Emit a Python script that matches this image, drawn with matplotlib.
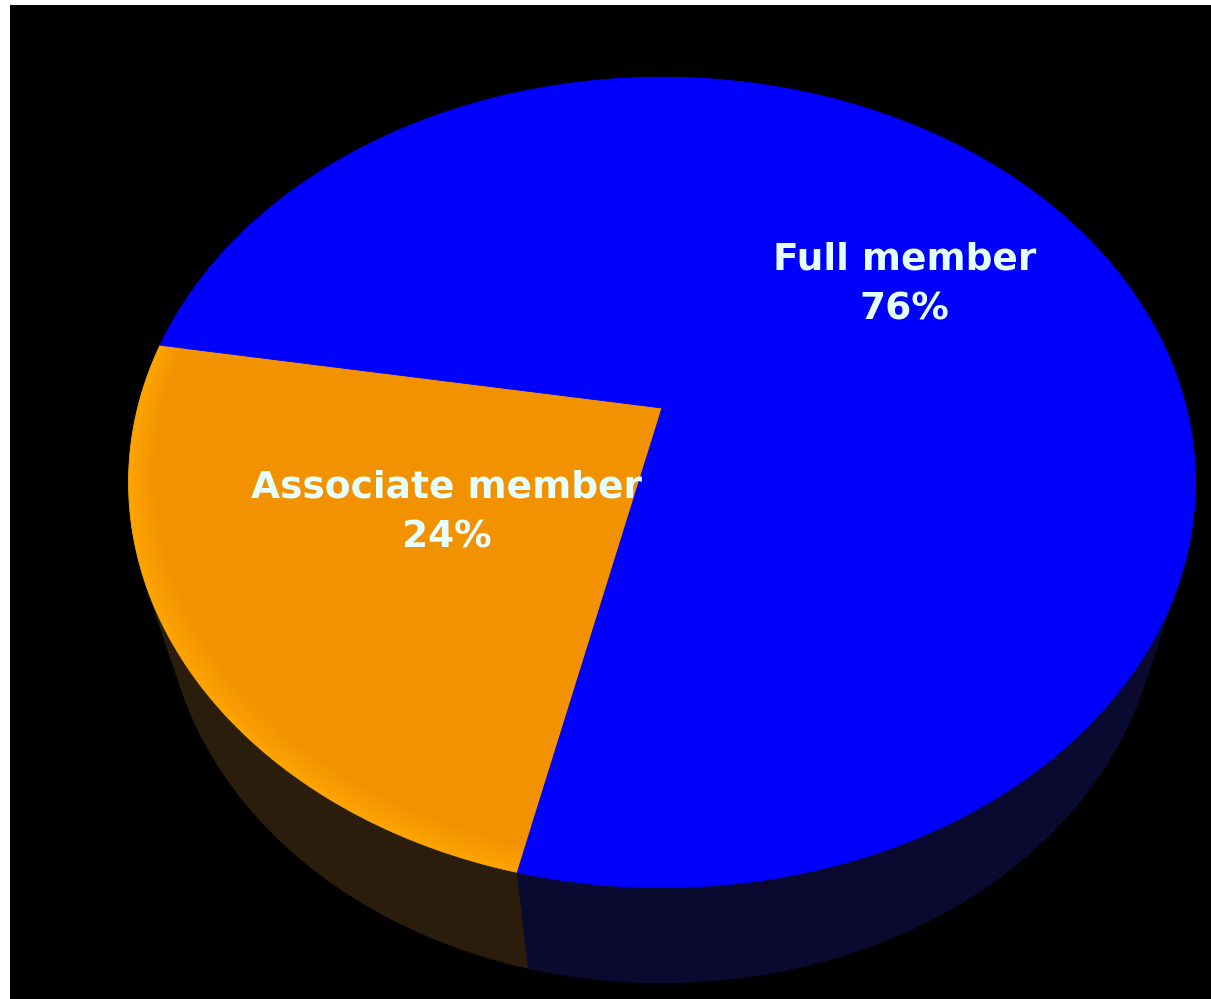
import numpy as np
import matplotlib.pyplot as plt
from matplotlib.colors import to_rgb
from matplotlib.patches import Polygon

# membership split
categories = ["Associate member", "Full member"]
shares = [24, 76]
top_colors = ["#F39200", "#0000FF"]
rim_colors = ["#FFA600", "#0000FF"]
side_colors = ["#2A1D0B", "#0A0A30"]
label_radius = [0.47, 0.59]
start_angle = 170.5

# simple perspective camera for the 3D pie
elev = np.radians(48.3)
R = 0.276        # pie radius (camera distance = 1)
depth_h = 0.093  # pie thickness
focal = 1900
cx, cy = 662, 408


def project(t, r=1.0, z=0.0):
    x = R * r * np.cos(t)
    y = R * r * np.sin(t)
    d = 1 + y * np.cos(elev) - z * np.sin(elev)
    u = focal * x / d
    v = focal * (y * np.sin(elev) + z * np.cos(elev)) / d
    return cx + u, cy - v


def arc(a0, a1, r=1.0, z=0.0, n=200):
    t = np.linspace(a0, a1, n)
    return np.column_stack(project(t, r, z))


fig = plt.figure(figsize=(12.11, 9.99), dpi=100, facecolor="white")
ax = fig.add_axes([10 / 1211, 0, 1201 / 1211, 994 / 999])
ax.set_facecolor("black")
ax.set_xlim(10, 1211)
ax.set_ylim(999, 5)
ax.set_xticks([])
ax.set_yticks([])
for s in ax.spines.values():
    s.set_visible(False)

# slice angles in degrees
angles = [start_angle]
for s in shares:
    angles.append(angles[-1] + s / sum(shares) * 360)

# outer wall is only visible where it faces the camera
lim = np.degrees(np.arcsin(R / np.cos(elev)))
vis0, vis1 = 180 + lim, 360 - lim

for i in range(len(shares)):
    a0, a1 = angles[i], angles[i + 1]
    for k in (-360, 0, 360):
        lo, hi = max(a0, vis0 + k), min(a1, vis1 + k)
        if hi <= lo:
            continue
        top = arc(np.radians(lo), np.radians(hi))
        bot = arc(np.radians(lo), np.radians(hi), z=-depth_h)
        ax.add_patch(Polygon(np.vstack([top, bot[::-1]]), closed=True,
                             facecolor=side_colors[i], edgecolor=side_colors[i],
                             lw=0.8, zorder=1))

# top faces, a little lighter right at the rim
steps = 14
for i in range(len(shares)):
    a0, a1 = np.radians(angles[i]), np.radians(angles[i + 1])
    c_rim = np.array(to_rgb(rim_colors[i]))
    c_in = np.array(to_rgb(top_colors[i]))
    for j, r in enumerate(np.linspace(1.0, 0.95, steps)):
        w = (j / (steps - 1)) ** 0.7
        col = c_rim * (1 - w) + c_in * w
        pts = np.vstack([[project(0, 0.0)], arc(a0, a1, r=r)])
        ax.add_patch(Polygon(pts, closed=True, facecolor=col,
                             edgecolor=col, lw=0.6, zorder=2 + j * 0.01))

# labels
for i, name in enumerate(categories):
    mid = np.radians((angles[i] + angles[i + 1]) / 2)
    x, y = project(mid, label_radius[i])
    ax.text(x, y - 3, f"{name}\n{shares[i]}%", ha="center", va="center",
            color="#E6FFFF", fontsize=27, fontweight="bold",
            family="DejaVu Sans", linespacing=1.5, zorder=5)

fig.savefig("out.png", dpi=100, facecolor="white")
